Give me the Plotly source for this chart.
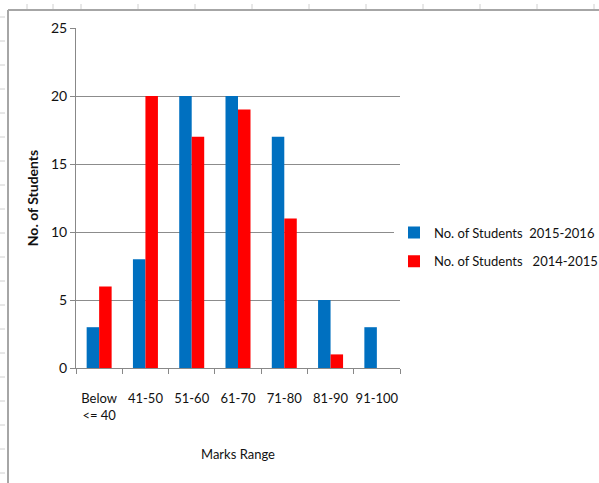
import plotly.graph_objects as go

# Marks distribution for two academic years
categories = ["Below<br><= 40", "41-50", "51-60", "61-70", "71-80", "81-90", "91-100"]
students_2015_2016 = [3, 8, 20, 20, 17, 5, 3]
students_2014_2015 = [6, 20, 17, 19, 11, 1, 0]
y_ticks = [0, 5, 10, 15, 20, 25]

FONT = "Lato, Liberation Sans, sans-serif"

fig = go.Figure()
fig.add_trace(go.Bar(x=categories, y=students_2015_2016,
                     name="No. of Students  2015-2016", legendgroup="a",
                     marker=dict(color="#0070C0", line=dict(width=0))))
fig.add_trace(go.Bar(x=categories, y=students_2014_2015,
                     name="No. of Students   2014-2015", legendgroup="b",
                     marker=dict(color="#FF0000", line=dict(width=0))))

L, R, T, B = 76, 199, 28, 115
W, H = 599, 483
pw, ph = W - L - R, H - T - B


def px_x(px):
    return (px - L) / pw


def px_y(py):
    return (H - B - py) / ph


shapes = []
# chart-area frame (left and top edges)
shapes.append(dict(type="line", xref="paper", yref="paper",
                   x0=px_x(8), x1=px_x(599), y0=px_y(10), y1=px_y(10),
                   line=dict(color="#a6a6a6", width=2)))
shapes.append(dict(type="line", xref="paper", yref="paper",
                   x0=px_x(8), x1=px_x(8), y0=px_y(10), y1=px_y(483),
                   line=dict(color="#a6a6a6", width=2)))
# faint ruler marks outside the frame
for py in range(17, 483, 24):
    shapes.append(dict(type="line", xref="paper", yref="paper",
                       x0=px_x(0), x1=px_x(5), y0=px_y(py), y1=px_y(py),
                       line=dict(color="#d0d0d0", width=1)))
for pxv in [27, 53] + list(range(81, 599, 57)):
    shapes.append(dict(type="line", xref="paper", yref="paper",
                       x0=px_x(pxv), x1=px_x(pxv), y0=px_y(4), y1=px_y(9),
                       line=dict(color="#d0d0d0", width=1)))

fig.update_layout(
    width=W, height=H,
    margin=dict(l=L, r=R, t=T, b=B, autoexpand=False),
    paper_bgcolor="white", plot_bgcolor="white",
    barmode="group", bargap=0.46, bargroupgap=0,
    font=dict(family=FONT, size=13, color="#111111"),
    showlegend=True,
    legend=dict(x=px_x(394), y=px_y(247), xanchor="left", yanchor="middle",
                font=dict(family=FONT, size=13, color="#111111"),
                traceorder="grouped", tracegroupgap=9, itemwidth=30),
    shapes=shapes,
)

fig.update_xaxes(
    type="category", tickangle=0,
    showline=True, linecolor="#888888", linewidth=1,
    ticks="outside", tickson="boundaries", ticklen=5, tickcolor="#888888",
    ticklabelstandoff=18,
    tickfont=dict(family=FONT, size=13, color="#111111"),
    showgrid=False,
    title=dict(text="Marks Range", standoff=28,
               font=dict(family=FONT, size=13, color="#111111")),
)

fig.update_yaxes(
    range=[0, 25], tickvals=y_ticks,
    showline=True, linecolor="#888888", linewidth=1,
    ticks="outside", ticklen=5, tickcolor="#888888",
    showgrid=True, gridcolor="#8c8c8c", gridwidth=1,
    zeroline=False,
    tickfont=dict(family=FONT, size=14, color="#111111"),
    title=dict(text="<b>No. of Students</b>", standoff=9,
               font=dict(family=FONT, size=14, color="#111111")),
)

fig.write_html("out.html")
